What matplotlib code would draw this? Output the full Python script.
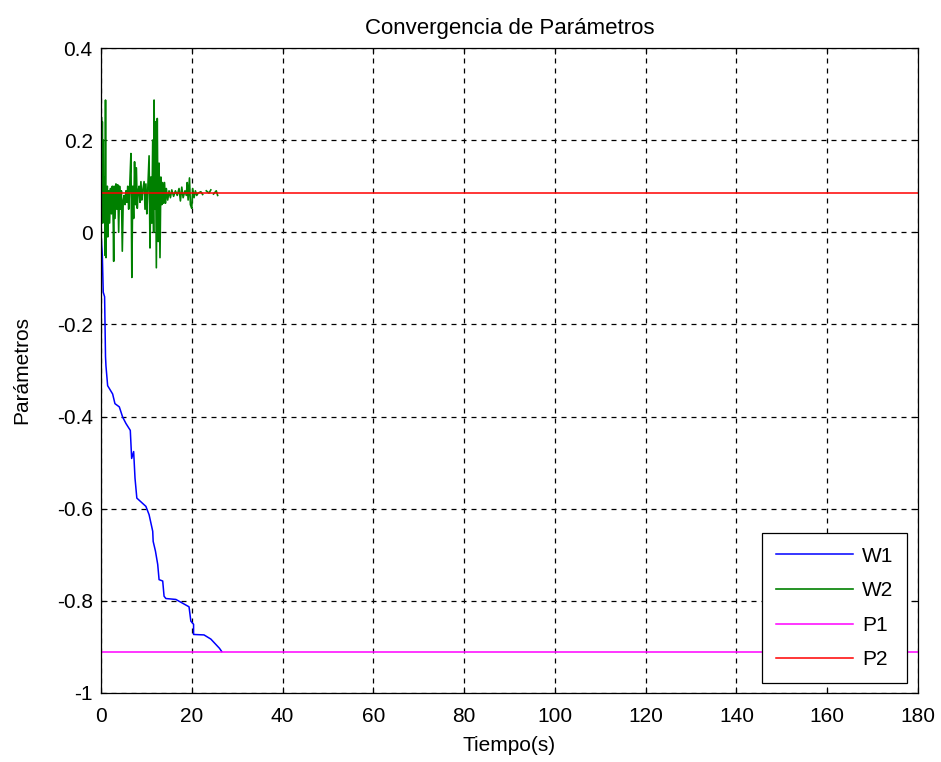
import numpy as np
import matplotlib
matplotlib.use("Agg")
import matplotlib.pyplot as plt

# === Data ===
t_w1 = [0.0, 0.3, 0.5, 0.8, 1.0, 1.1, 1.47, 2.57, 3.08, 4.04, 4.77, 5.5, 6.46, 6.76,
        7.2, 7.5, 7.9, 9.9, 10.6, 11.4, 11.5, 12.0, 12.5, 12.8, 13.6, 13.9, 14.3,
        16.5, 19.4, 19.8, 20.4, 20.4, 22.7, 24.2, 26.1, 26.6]
w1 = [0.0, -0.05, -0.13, -0.14, -0.27, -0.29, -0.333, -0.351, -0.372, -0.379, -0.401,
      -0.415, -0.43, -0.491, -0.476, -0.534, -0.577, -0.595, -0.613, -0.649, -0.671,
      -0.692, -0.721, -0.754, -0.757, -0.79, -0.795, -0.797, -0.813, -0.844, -0.851,
      -0.873, -0.874, -0.883, -0.903, -0.91]

t_w2 = [0.0, 0.1, 0.2, 0.3, 0.4, 0.5, 0.6, 0.8, 0.9, 1.0, 1.1, 1.2, 1.4, 1.5, 1.7,
        1.9, 2.1, 2.3, 2.5, 2.7, 2.8, 2.9, 3.1, 3.3, 3.5, 3.7, 3.9, 4.1, 4.3, 4.5,
        4.7, 4.9, 5.1, 5.3, 5.5, 5.7, 5.9, 6.1, 6.3, 6.6, 6.8, 7.0, 7.2, 7.4, 7.6,
        7.8, 8.0, 8.2, 8.4, 8.6, 8.8, 9.0, 9.2, 9.5, 9.7, 9.9, 10.1, 10.3, 10.6,
        10.8, 11.0, 11.2, 11.4, 11.6, 11.7, 11.9, 12.0, 12.2, 12.4, 12.6, 12.8,
        13.0, 13.2, 13.4, 13.6, 13.8, 14.0, 14.2, 14.4, 14.7, 15.0, 15.3, 15.6,
        16.0, 16.4, 16.8, 17.2, 17.5, 17.8, 18.1, 18.5, 18.8, 19.0, 19.2, 19.5,
        19.7, 20.0, 20.2, 20.5, 20.8, 21.1, 21.4,
        22.0, 22.4, 22.8, 23.2, 23.8, 24.2, 24.5, 24.8, 25.4, 25.7]
w2 = [0.0, 0.25, 0.03, 0.24, 0.02, 0.20, 0.04, 0.12, -0.05, 0.287, -0.055, 0.06,
      0.10, -0.01, 0.09, 0.02, 0.095, 0.04, 0.10, 0.02, -0.063, 0.10, 0.03, 0.105,
      0.05, 0.103, 0.0, 0.10, 0.05, 0.09, -0.041, 0.07, 0.08, 0.06, 0.09, 0.065,
      0.10, 0.05, 0.09, 0.171, -0.098, 0.10, 0.03, 0.153, 0.06, 0.14, 0.052, 0.09,
      0.10, 0.065, 0.11, 0.07, 0.09, 0.11, 0.05, 0.105, 0.04, 0.09, 0.166, -0.034,
      0.12, 0.02, 0.20, 0.0, 0.287, 0.05, 0.24, -0.077, 0.247, -0.02, 0.15, -0.055,
      0.12, 0.06, 0.108, 0.063, 0.108, 0.063, 0.095, 0.07, 0.09, 0.075, 0.092,
      0.078, 0.09, 0.08, 0.095, 0.068, 0.098, 0.075, 0.09, 0.08, 0.108, 0.07,
      0.118, 0.06, 0.052, 0.095, 0.075, 0.09, 0.08, 0.085,
      0.088, 0.082, np.nan, 0.09, 0.085, 0.092, np.nan, 0.083, 0.09, 0.08]

t_p = [0, 180]
p1 = [-0.91, -0.91]
p2 = [0.085, 0.085]

# === Plot ===
plt.rcParams['font.family'] = ['Liberation Sans', 'DejaVu Sans']
fig = plt.figure(figsize=(9.41, 7.62), dpi=100)
ax = fig.add_axes([0.1073, 0.0906, 0.8683, 0.8464])

ax.plot(t_w1, w1, color=(0, 0, 1), lw=1.1, label="W1")
ax.plot(t_w2, w2, color=(0, 0.5, 0), lw=1.2, label="W2")
ax.plot(t_p, p1, color=(1, 0, 1), lw=1.1, label="P1")
ax.plot(t_p, p2, color=(1, 0, 0), lw=1.1, label="P2")

ax.set_xlim(0, 180)
ax.set_ylim(-1, 0.4)
ax.set_xticks(np.arange(0, 181, 20))
ax.set_yticks([-1, -0.8, -0.6, -0.4, -0.2, 0, 0.2, 0.4])
ax.set_yticklabels(["-1", "-0.8", "-0.6", "-0.4", "-0.2", "0", "0.2", "0.4"])
ax.tick_params(direction="in", length=4, width=0.8, top=True, right=True,
               labelsize=15, pad=6)
ax.tick_params(axis="x", pad=10)
ax.grid(True, color="black", linestyle=(0, (4, 4)), lw=0.9)
for s in ax.spines.values():
    s.set_linewidth(0.9)

ax.set_title("Convergencia de Parámetros", fontsize=16, pad=10)
ax.set_xlabel("Tiempo(s)", fontsize=15, labelpad=7)
ax.set_ylabel("Parámetros", fontsize=15, labelpad=18)

leg = ax.legend(loc="lower right", bbox_to_anchor=(907 / 941, 1 - 683 / 762),
                bbox_transform=fig.transFigure, borderaxespad=0, fancybox=False,
                framealpha=1, edgecolor="black", fontsize=15, handlelength=3.7,
                handletextpad=0.45, labelspacing=0.75, borderpad=0.65)
leg.get_frame().set_linewidth(0.9)

fig.savefig("out.png", dpi=100)
